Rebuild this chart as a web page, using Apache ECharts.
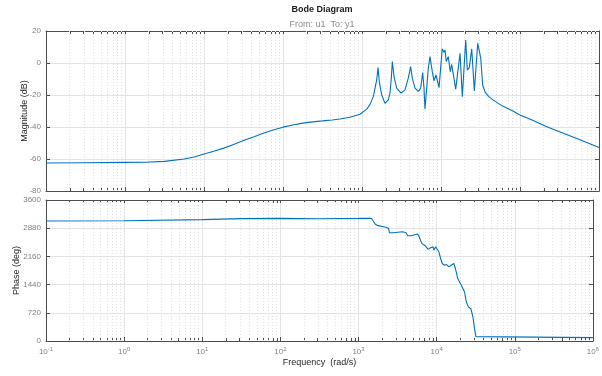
<!DOCTYPE html>
<html><head><meta charset="utf-8">
<script src="https://cdn.jsdelivr.net/npm/echarts@6/dist/echarts.min.js"></script>
<style>html,body{margin:0;padding:0;background:#fff}#c{width:602px;height:376px}</style>
</head><body><div id="c"></div>
<script>
// ---- data (frequency in rad/s) ----
const magFreq = [0.1, 0.316, 1, 1.78, 3.16, 5.62, 7.5, 10, 13.3, 17.8, 23.7, 31.6, 42.2, 56.2, 75, 100, 133, 178, 237, 316, 420, 525, 700, 944,
  1146, 1262, 1390, 1462, 1535, 1596, 1656, 1774, 1954, 2153, 2259, 2350, 2421, 2541, 2748,
  3119, 3499, 3855, 4130, 4335, 4688, 5164, 5534, 5741, 5861, 6095, 6266, 6592, 6902, 7261,
  7762, 8147, 8650, 9441, 10375, 10914, 11246, 11668, 12359, 13122, 13646, 15346, 17418, 18621,
  20559, 21528, 22803, 24491, 26424, 29174, 30549, 31842, 33730, 36060, 39720, 45920, 52000, 58500,
  67920, 82220, 97950, 147200, 217800, 354000, 574100, 1000000];
const magDb = [-62.5, -62.3, -62.1, -62.0, -61.5, -60, -58.7, -56.9, -55.1, -53.2, -50.9, -48.5, -46.2, -43.9, -41.9, -40.1, -38.7, -37.6, -36.8, -36.2, -35.6, -35, -33.9, -32,
  -28.8, -26, -21, -15.7, -10.6, -2.9, -11.6, -19.9, -25.2, -23, -18.8, -9.5, 0.9, -8.5, -15.7,
  -18.8, -16.8, -9.5, -2.3, -9.5, -15.7, -17.8, -15.7, -9.5, -6, -15.7, -28.8, -15.7, -3.3, 4.0,
  -5.4, -11.2, -7.5, -15.4, 8.8, 6.7, 8.1, 0.9, 4, -5.4, -0.8, -16.3, 6.1, -21,
  14.4, -4.4, -2.9, 8.8, -17.5, 12.3, 11.3, 3, -13.9, -18, -20.7, -23.2, -24.9, -26.5,
  -28.1, -30.1, -32.3, -36, -39.8, -43.9, -48, -52.8];
const phaseFreq = [0.1, 1, 10, 31.6, 100, 316, 1000, 1462, 1535, 1641, 1774, 2259, 2421, 2489, 2748,
  3681, 4055, 4256, 4688, 5702, 5970, 6457, 7261, 7762, 8395, 8974, 9247, 9705, 10209, 10691,
  11246, 11803, 12618, 13397, 14322, 15346, 16558, 17418, 18621, 19724, 20701, 21777, 22803,
  23768, 24491, 25645, 26424, 27479, 28314, 29174, 30549, 31842, 33343, 1000000];
const phaseDeg = [3065, 3070, 3100, 3125, 3130, 3120, 3130, 3135, 3092, 2981, 2945, 2904, 2878, 2765, 2765,
  2791, 2765, 2688, 2688, 2732, 2663, 2493, 2420, 2339, 2380, 2406, 2321, 2406, 2364, 2277,
  2107, 1979, 1935, 1953, 1892, 1935, 1979, 1850, 1593, 1550, 1421, 1378, 1249,
  1036, 951, 864, 890, 822, 864, 607, 308, 111, 85, 85];
const decadeExponents = [-1, 0, 1, 2, 3, 4, 5, 6];
const magTicks = [-80, -60, -40, -20, 0, 20];
const phaseTicks = [0, 720, 1440, 2160, 2880, 3600];

// ---- build ----
const FONT = "'Liberation Sans', Arial, Helvetica, sans-serif";
const AX = '#4d4d4d';
const LBL = '#808080';
const NAME = '#262626';
const xMin = decadeExponents[0], xMax = decadeExponents[decadeExponents.length - 1];
const minorVals = [];
for (let n = xMin; n < xMax; n++) for (let k = 2; k <= 9; k++) minorVals.push(n + Math.log10(k));
const allTickVals = decadeExponents.concat(minorVals);

function xAxesFor(g, showLabels) {
  return [
    { type: 'value', gridIndex: g, position: 'bottom', min: xMin, max: xMax, interval: 1,
      axisLine: { show: true, onZero: false, lineStyle: { color: AX, width: 1 } },
      axisTick: { show: true, inside: true, length: 4, lineStyle: { color: AX } },
      axisLabel: { show: showLabels, margin: 5, color: LBL, fontFamily: FONT,
        formatter: v => '{b|10}{s|' + v + '}',
        rich: { b: { fontSize: 8, color: LBL, fontFamily: FONT },
                s: { fontSize: 6, color: LBL, fontFamily: FONT, padding: [0, 0, 6, 0] } } },
      splitLine: { show: true, lineStyle: { color: '#e3e3e3', width: 1 } },
      name: showLabels ? 'Frequency  (rad/s)' : '', nameLocation: 'middle', nameGap: 17,
      nameMoveOverlap: false,
      nameTextStyle: { fontSize: 9, color: NAME, fontFamily: FONT } },
    { type: 'value', gridIndex: g, position: 'top', min: xMin, max: xMax,
      axisLine: { show: true, onZero: false, lineStyle: { color: AX, width: 1 } },
      axisTick: { show: true, inside: true, length: 3, customValues: allTickVals, lineStyle: { color: AX } },
      axisLabel: { show: false }, splitLine: { show: false } },
    { type: 'value', gridIndex: g, position: 'bottom', min: xMin, max: xMax,
      axisLine: { show: false, onZero: false },
      axisTick: { show: true, inside: true, length: 3, customValues: minorVals, lineStyle: { color: AX } },
      axisLabel: { show: false }, splitLine: { show: false } }
  ];
}
function yAxesFor(g, ticks, name, gap) {
  const mn = ticks[0], mx = ticks[ticks.length - 1], iv = ticks[1] - ticks[0];
  return [
    { type: 'value', gridIndex: g, position: 'left', min: mn, max: mx, interval: iv,
      axisLine: { show: true, onZero: false, lineStyle: { color: AX, width: 1 } },
      axisTick: { show: true, inside: true, length: 4, lineStyle: { color: AX } },
      axisLabel: { margin: 5, fontSize: 8, color: LBL, fontFamily: FONT, formatter: v => String(v) },
      splitLine: { show: true, lineStyle: { color: '#e3e3e3', width: 1 } },
      name: name, nameLocation: 'middle', nameGap: gap, nameMoveOverlap: false,
      nameTextStyle: { fontSize: 9, color: NAME, fontFamily: FONT } },
    { type: 'value', gridIndex: g, position: 'right', min: mn, max: mx, interval: iv,
      axisLine: { show: true, onZero: false, lineStyle: { color: AX, width: 1 } },
      axisTick: { show: true, inside: true, length: 4, lineStyle: { color: AX } },
      axisLabel: { show: false }, splitLine: { show: false } }
  ];
}
function minorGridSeries(xi, yi) {
  return { type: 'line', xAxisIndex: xi, yAxisIndex: yi, data: [], silent: true, z: 1,
    markLine: { silent: true, symbol: ['none', 'none'], label: { show: false }, animation: false,
      lineStyle: { color: '#e2e2e2', width: 1, type: [1, 2] },
      emphasis: { disabled: true },
      data: minorVals.map(v => ({ xAxis: v })) } };
}

const chart = echarts.init(document.getElementById('c'), null, { renderer: 'canvas' });
chart.setOption({
  animation: false,
  backgroundColor: '#fff',
  textStyle: { fontFamily: FONT },
  graphic: [
    { type: 'text', x: 322, y: 5, style: { text: 'Bode Diagram', font: 'bold 9px ' + FONT, fill: '#1a1a1a', align: 'center', verticalAlign: 'top' } },
    { type: 'text', x: 322, y: 20, style: { text: 'From: u1  To: y1', font: '9px ' + FONT, fill: '#8a8a8a', align: 'center', verticalAlign: 'top' } }
  ],
  grid: [
    { left: 46, top: 31, width: 553, height: 160 },
    { left: 46, top: 200, width: 553, height: 141 }
  ],
  xAxis: xAxesFor(0, false).concat(xAxesFor(1, true)),
  yAxis: yAxesFor(0, magTicks, 'Magnitude (dB)', 17).concat(yAxesFor(1, phaseTicks, 'Phase (deg)', 25)),
  series: [
    minorGridSeries(0, 0),
    minorGridSeries(3, 2),
    { type: 'line', xAxisIndex: 0, yAxisIndex: 0, showSymbol: false, symbol: 'none', z: 5,
      lineStyle: { color: '#0072BD', width: 1.1 },
      data: magFreq.map((f, i) => [Math.log10(f), magDb[i]]) },
    { type: 'line', xAxisIndex: 3, yAxisIndex: 2, showSymbol: false, symbol: 'none', z: 5,
      lineStyle: { color: '#0072BD', width: 1.1 },
      data: phaseFreq.map((f, i) => [Math.log10(f), phaseDeg[i]]) }
  ]
});
</script>
</body></html>
